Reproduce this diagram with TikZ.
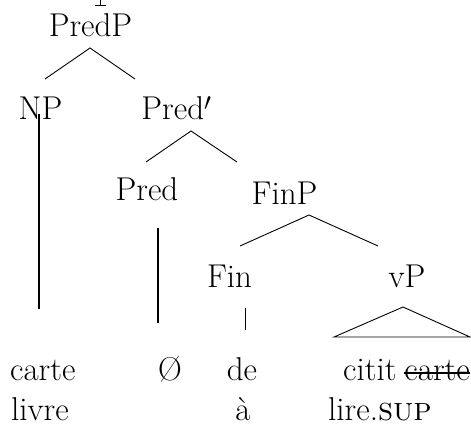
\documentclass[tikz,border=0pt]{standalone}
\begin{document}
\begin{tikzpicture}[x=1pt,y=-1pt,
  lbl/.style={inner sep=0pt,anchor=base,font=\fontsize{33}{40}\selectfont},
  lblw/.style={inner sep=0pt,anchor=base west,font=\fontsize{33}{40}\selectfont},
  lble/.style={inner sep=0pt,anchor=base east,font=\fontsize{33}{40}\selectfont},
  branch/.style={line width=0.9pt},
  thick stem/.style={line width=1.5pt}]
\useasboundingbox (0,0) rectangle (471,425);
% clipped fragment at top
\draw[line width=1pt] (100,0) -- (100,5);
\draw[line width=0.8pt] (95,5) -- (106,5);
% labels
\node[lbl] (predp) at (90.5,37) {PredP};
\node[lbl] (np) at (40.5,120) {NP};
\node[lbl] (predbar) at (176.5,120) {Pred$'$};
\node[lbl] (pred) at (147,200) {Pred};
\node[lbl] (finp) at (284.5,204) {FinP};
\node[lbl] (fin) at (229.5,287) {Fin};
\node[lbl] (vp) at (407,287) {vP};
% terminals
\node[lblw] (carte) at (10,380) {carte};
\node[lbl] (null) at (170,380) {\O};
\node[lbl] (de) at (242,380) {de};
\node[lblw] (citit) at (343,380) {citit};
\node[lble] (cartes) at (470,380) {carte};
\node[lblw] (livre) at (11,420) {livre};
\node[lbl] (a) at (243,420) {\`a};
\node[lblw] (lire) at (328,420) {lire.\textsc{sup}};
% strike-through
\draw[line width=1.1pt] ([yshift=7pt]cartes.base west) -- ([yshift=7pt]cartes.base east);
% branch points
\coordinate (p0) at (90,48);  \coordinate (p1) at (45,79);  \coordinate (p2) at (135,79);
\coordinate (q0) at (191,131); \coordinate (q1) at (146,162); \coordinate (q2) at (237,162);
\coordinate (f0) at (309,215); \coordinate (f1) at (240,246); \coordinate (f2) at (378,246);
\coordinate (n0) at (39,114); \coordinate (n1) at (39,309);
\coordinate (r0) at (158,228); \coordinate (r1) at (158,323);
\coordinate (g0) at (245,308); \coordinate (g1) at (245,330);
\coordinate (v0) at (403,307); \coordinate (v1) at (334,337); \coordinate (v2) at (470,337);
\draw[branch] (p1) -- (p0) -- (p2);
\draw[branch] (q1) -- (q0) -- (q2);
\draw[branch] (f1) -- (f0) -- (f2);
\draw[thick stem] (n0) -- (n1);
\draw[thick stem] (r0) -- (r1);
\draw[branch] (g0) -- (g1);
\draw[branch] (v1) -- (v0) -- (v2) -- cycle;
\end{tikzpicture}
\end{document}
